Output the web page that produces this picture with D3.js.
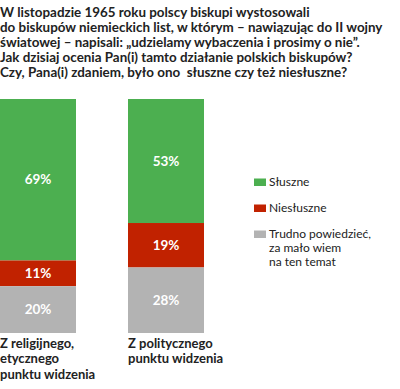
<!DOCTYPE html>
<html><head><meta charset="utf-8">
<script src="https://cdn.jsdelivr.net/npm/d3@7"></script>
<style>body{margin:0;background:#fff}svg{display:block}</style>
</head><body>
<script>
const titleLines = [
  "W listopadzie 1965 roku polscy biskupi wystosowali",
  "do biskupów niemieckich list, w którym – nawiązując do II wojny",
  "światowej – napisali: „udzielamy wybaczenia i prosimy o nie”.",
  "Jak dzisiaj ocenia Pan(i) tamto działanie polskich biskupów?",
  "Czy, Pana(i) zdaniem, było ono  słuszne czy też niesłuszne?"
];
const categories = ["rel", "pol"];
const categoryLabels = [["Z religijnego,", "etycznego", "punktu widzenia"], ["Z politycznego", "punktu widzenia"]];
const seriesNames = ["Słuszne", "Niesłuszne", "Trudno powiedzieć,|za mało wiem|na ten temat"];
const sluszne = [69, 53];
const niesluszne = [11, 19];
const trudno = [20, 28];
const colors = ["#4caf50", "#c12200", "#b3b3b3"];

const W = 400, H = 389;
const font = "Lato, 'Open Sans', sans-serif";
const svg = d3.select("body").append("svg").attr("width", W).attr("height", H)
  .style("font-family", font);

// title
svg.append("g").selectAll("text").data(titleLines).join("text")
  .attr("x", 0).attr("y", (d, i) => 16.5 + i * 15)
  .attr("font-size", 13.4).attr("font-weight", 700).attr("fill", "#222")
  .style("white-space", "pre")
  .text(d => d);

const x = d3.scaleBand().domain(categories).range([0, 204]).paddingInner(52 / 128).paddingOuter(0);
const y = d3.scaleLinear().domain([0, 100]).range([99, 333]);

const table = categories.map((c, i) => ({cat: c, s0: sluszne[i], s1: niesluszne[i], s2: trudno[i]}));
const stack = d3.stack().keys(["s0", "s1", "s2"]);
const series = stack(table);

const g = svg.append("g");
series.forEach((s, si) => {
  g.append("g").selectAll("rect").data(s).join("rect")
    .attr("x", d => x(d.data.cat))
    .attr("y", d => y(d[0]))
    .attr("width", x.bandwidth())
    .attr("height", d => y(d[1]) - y(d[0]))
    .attr("fill", colors[si]);
  g.append("g").selectAll("text").data(s).join("text")
    .attr("x", d => x(d.data.cat) + x.bandwidth() / 2)
    .attr("y", d => (y(d[0]) + y(d[1])) / 2 + 4.5)
    .attr("text-anchor", "middle")
    .attr("font-size", 13.5).attr("font-weight", 700).attr("fill", "#fff")
    .text(d => (d[1] - d[0]) + "%");
});

// category labels
categories.forEach((c, i) => {
  svg.append("g").selectAll("text").data(categoryLabels[i]).join("text")
    .attr("x", x(c)).attr("y", (d, j) => 347.5 + j * 15.5)
    .attr("font-size", 13).attr("font-weight", 700).attr("fill", "#222")
    .text(d => d);
});

// legend
const leg = svg.append("g");
seriesNames.forEach((n, i) => {
  const yy = 186 + i * 26;
  leg.append("rect").attr("x", 254).attr("y", yy - 7.5).attr("width", 12).attr("height", 7.5)
    .attr("fill", colors[i]);
  leg.append("g").selectAll("text").data(n.split("|")).join("text")
    .attr("x", 269).attr("y", (d, j) => yy + j * 14)
    .attr("font-size", 12).attr("fill", "#222")
    .text(d => d);
});
</script>
</body></html>
